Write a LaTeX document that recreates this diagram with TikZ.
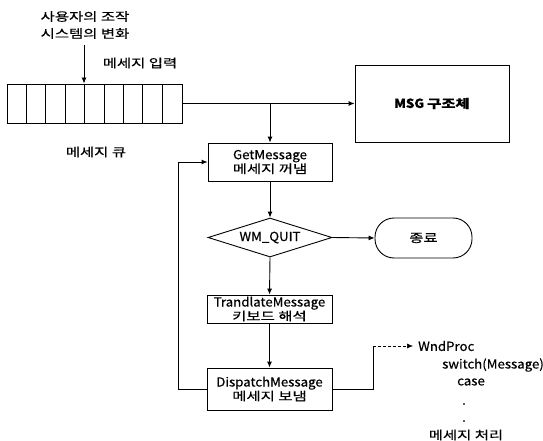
\documentclass[tikz,border=0pt]{standalone}
\usepackage{fontspec}
\setmainfont{Noto Sans CJK KR}[FakeBold=0.4,FakeStretch=1.06]
\newfontfamily\kr{Noto Sans CJK KR}[FakeStretch=1.3,Scale=0.95,FakeBold=0.4]
\usetikzlibrary{arrows.meta,shapes.geometric}
\tikzset{
  every node/.style={font=\fontsize{12.5}{14}\selectfont, inner sep=0pt},
  conn/.style={line width=0.9pt},
  arr/.style={conn,-{Latex[length=6pt,width=5pt]}},
  procbox/.style={draw,line width=0.9pt,align=center,minimum width=125pt},
  lbl/.style={align=center},
}
\begin{document}
\begin{tikzpicture}[x=1pt,y=-1pt]
\useasboundingbox[fill=white] (0,0) rectangle (543,441);
% queue
\node[draw,line width=0.9pt,minimum width=175pt,minimum height=39pt] (q) at (94.5,103.5) {};
\foreach \xx in {26.4,45.8,65.2,84.6,104,123.4,142.8,162.2}
  \draw[conn] (\xx,84) -- (\xx,123);
\node[lbl,font=\fontsize{12.5}{17}\selectfont] (in) at (85,25) {\kr 사용자의 조작\\\kr 시스템의 변화};
\coordinate (inarr) at (84,45);
\draw[arr] (inarr) -- (inarr |- q.north);
\node[lbl] (inlbl) at (140,63) {\kr 메세지 입력};
\node[lbl] (qlbl) at (96,152) {\kr 메세지 큐};
% MSG
\node[procbox,minimum width=154pt,minimum height=77pt,font=\fontsize{12.5}{14}\selectfont\bfseries] (msg) at (432,103.5) {MSG {\kr\bfseries 구조체}};
\draw[arr] (q.east) -- (msg.west);
% Get
\node[procbox,minimum width=124pt,minimum height=38pt] (get) at (270,162) {GetMessage\\\kr 메세지 꺼냄};
\coordinate (br) at (get.north |- q.east);
\draw[arr] (br) -- (get.north);
% diamond
\node[draw,line width=0.9pt,diamond,aspect=3.2,minimum width=124pt,minimum height=39pt] (quit) at (270,237.5) {WM\_QUIT};
\draw[arr] (get.south) -- (quit.north);
\node[draw,line width=0.9pt,rounded corners=19pt,minimum width=97pt,minimum height=40pt] (end) at (423.5,238) {\kr 종료};
\draw[arr] (quit.east) -- (end.west);
% translate
\node[procbox,minimum height=28pt] (tr) at (269.5,309) {TrandlateMessage\\\kr 키보드 해석};
\draw[arr] (quit.south) -- (tr.north);
% dispatch
\node[procbox,minimum height=42pt] (dp) at (269.5,389) {DispatchMessage\\\kr 메세지 보냄};
\draw[arr] (tr.south) -- (dp.north);
% loop back
\coordinate (lp) at (178,389);
\draw[arr] (dp.west) -- (lp) |- (get.west);
% wndproc
\coordinate (rc) at (373,389);
\coordinate (rt) at (373,346);
\coordinate (wa) at (413,346);
\draw[conn] (dp.east) -- (rc) -- (rt);
\draw[line width=0.6pt,densely dashed,-{Latex[length=6pt,width=5pt]}] (rt) -- (wa);
\node[anchor=west] (wnd) at (418,346) {WndProc};
\node[anchor=west] (sw) at (442,365) {switch(Message)};
\node[anchor=west] (cs) at (457,382) {case};
\node (d1) at (464,404) {.};
\node (d2) at (464,421) {.};
\node (proc) at (466,435) {\kr 메세지 처리};
\end{tikzpicture}
\end{document}
